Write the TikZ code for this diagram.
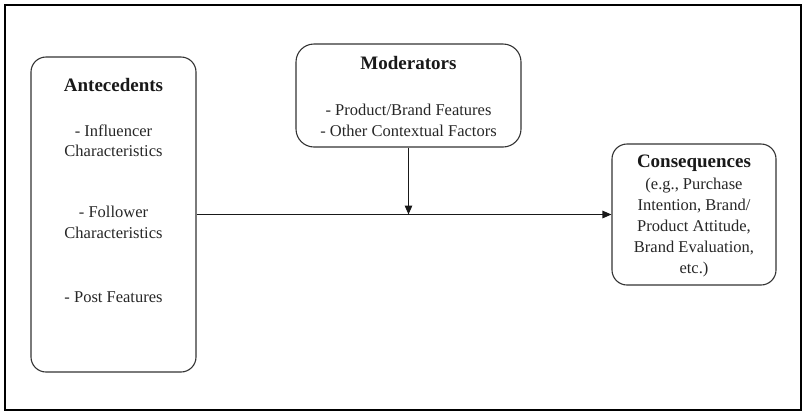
\documentclass[tikz,border=0pt]{standalone}
\usepackage{fontspec}
\setmainfont{Liberation Serif}
\usetikzlibrary{arrows.meta}

\tikzset{
  box/.style={draw=black!80, line width=1.1pt, rounded corners=15pt, inner sep=0pt},
  head/.style={font=\fontsize{19}{22}\selectfont\bfseries, text=black!90, inner sep=0pt},
  body/.style={font=\fontsize{16.5}{20.5}\selectfont, text=black!85, align=center, inner sep=0pt},
  link/.style={draw=black!90, line width=1.2pt},
  tip/.style={-{Triangle[length=9pt,width=7.5pt]}}
}

\begin{document}
\begin{tikzpicture}[x=1pt,y=-1pt]
  \useasboundingbox (0,0) rectangle (805,413);
  % outer frame
  \draw[line width=2pt] (5,5) rectangle (801,410);

  % boxes
  \node[box, minimum width=165pt, minimum height=315pt] (ante) at (113.5,214.5) {};
  \node[box, rounded corners=18pt, minimum width=225pt, minimum height=103pt] (mod) at (408.5,95.5) {};
  \node[box, minimum width=164pt, minimum height=141pt] (cons) at (694,214.5) {};

  % antecedents text
  \node[head] (anteT) at (113.5,85) {Antecedents};
  \node[body] (ante1) at (113.5,141) {- Influencer\\Characteristics};
  \node[body] (ante2) at (113.5,222.5) {- Follower\\Characteristics};
  \node[body] (ante3) at (113.5,297) {- Post Features};

  % moderators text
  \node[head] (modT) at (408.5,63) {Moderators};
  \node[body] (mod1) at (408.5,120.5) {- Product/Brand Features\\- Other Contextual Factors};

  % consequences text
  \node[head] (consT) at (694,163) {Consequences};
  \node[body, font=\fontsize{16.5}{21.2}\selectfont] (cons1) at (694,227.5) {(e.g., Purchase\\Intention, Brand/\\Product Attitude,\\Brand Evaluation,\\etc.)};

  % connectors
  \coordinate (j) at (408.5,214.5);
  \draw[link, tip] (ante.east) -- (cons.west);
  \draw[link, tip] (mod.south) -- (j);
\end{tikzpicture}
\end{document}
